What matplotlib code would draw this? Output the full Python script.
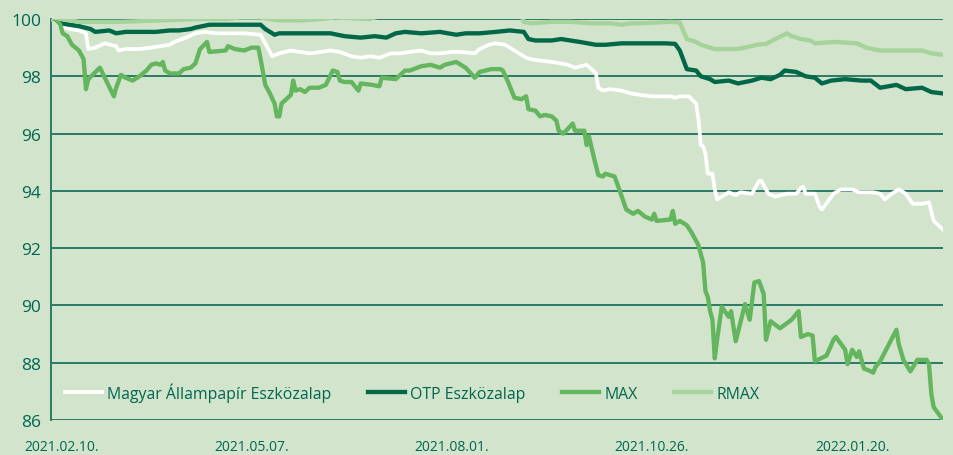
# Eszközalapok árfolyamának alakulása, 2021.02.10. = 100
import numpy as np
import pandas as pd
import matplotlib.pyplot as plt
from matplotlib.transforms import ScaledTranslation

plt.rcParams['font.family'] = ['Open Sans', 'DejaVu Sans']

start = pd.Timestamp('2021-02-10')
tick_labels = ['2021.02.10.', '2021.05.07.', '2021.08.01.', '2021.10.26.', '2022.01.20.']
series_names = ['Magyar Állampapír Eszközalap', 'OTP Eszközalap', 'MAX', 'RMAX']

# napok a kezdőnaptól és az értékek (ábráról leolvasva)
allam_days = [0, 1, 4, 8, 12, 15, 16, 19, 23, 28, 29, 32, 38, 43, 47, 51, 53, 58, 62, 66, 71, 77, 83,
              90, 92, 95, 98, 103, 107, 111, 116, 120, 124, 129, 133, 137, 141, 146, 150, 154, 159,
              163, 167, 172, 176, 182, 184, 188, 191, 195, 197, 199, 202, 204, 206, 210, 215, 219,
              222, 225, 230, 232, 234, 235, 237, 240, 245, 249, 253, 258, 266, 268, 270, 274, 275,
              277, 278, 279, 280, 281, 282, 284, 285, 286, 288, 291, 294, 296, 301, 304, 305, 308,
              311, 316, 320, 322, 323, 324, 328, 330, 331, 336, 339, 344, 347, 350, 353, 356, 358,
              361, 364, 367, 370, 374, 377, 379, 383]
allam_vals = [100.0, 100.1, 99.75, 99.65, 99.6, 99.5, 98.95, 99.0, 99.15, 99.05, 98.9, 98.95, 98.95,
              99.0, 99.05, 99.1, 99.2, 99.35, 99.5, 99.55, 99.5, 99.5, 99.5, 99.45, 99.15, 98.7, 98.8,
              98.9, 98.85, 98.8, 98.85, 98.9, 98.85, 98.7, 98.65, 98.7, 98.65, 98.8, 98.8, 98.85,
              98.9, 98.8, 98.8, 98.85, 98.85, 98.8, 98.95, 99.1, 99.15, 99.1, 99.0, 98.9, 98.75,
              98.65, 98.6, 98.55, 98.5, 98.45, 98.4, 98.3, 98.4, 98.25, 98.1, 97.6, 97.5, 97.55,
              97.5, 97.4, 97.35, 97.3, 97.3, 97.25, 97.3, 97.3, 97.2, 97.05, 96.5, 95.6, 95.55, 95.3,
              94.6, 94.6, 94.05, 93.7, 93.8, 93.95, 93.85, 93.95, 93.9, 94.35, 94.35, 93.9, 93.8,
              93.9, 93.9, 94.1, 94.15, 93.9, 93.9, 93.45, 93.35, 93.9, 94.05, 94.05, 93.95, 93.95,
              93.95, 93.9, 93.7, 93.9, 94.05, 93.9, 93.55, 93.55, 93.6, 92.95, 92.65]

otp_days = [0, 1, 4, 12, 17, 19, 25, 28, 32, 38, 45, 51, 55, 60, 62, 68, 73, 81, 90, 92, 96, 98, 105,
            116, 120, 126, 133, 139, 144, 148, 152, 159, 167, 174, 178, 184, 191, 197, 203, 205, 208,
            215, 219, 223, 227, 234, 238, 245, 253, 260, 264, 268, 270, 273, 277, 279, 283, 285, 291,
            295, 301, 305, 309, 313, 315, 320, 324, 328, 331, 335, 341, 348, 352, 356, 363, 367, 374,
            378, 383]
otp_vals = [100.0, 100.05, 99.85, 99.75, 99.65, 99.55, 99.6, 99.5, 99.55, 99.55, 99.55, 99.6, 99.6,
            99.65, 99.7, 99.8, 99.8, 99.8, 99.8, 99.65, 99.45, 99.5, 99.5, 99.5, 99.5, 99.4, 99.35,
            99.4, 99.35, 99.5, 99.55, 99.5, 99.55, 99.45, 99.5, 99.5, 99.55, 99.6, 99.55, 99.3, 99.25,
            99.25, 99.3, 99.25, 99.2, 99.1, 99.1, 99.15, 99.15, 99.15, 99.15, 99.13, 98.9, 98.25,
            98.2, 98.0, 97.9, 97.8, 97.85, 97.75, 97.85, 97.95, 97.9, 98.05, 98.2, 98.15, 98.0, 97.95,
            97.75, 97.85, 97.9, 97.85, 97.85, 97.6, 97.7, 97.55, 97.6, 97.45, 97.4]

max_days = [0, 1, 4, 5, 7, 9, 12, 14, 15, 16, 21, 27, 28, 30, 32, 35, 38, 41, 43, 45, 47, 48, 49, 51,
            55, 57, 60, 62, 64, 67, 68, 75, 76, 79, 83, 86, 89, 90, 92, 94, 96, 97, 98, 99, 103, 104,
            105, 107, 109, 111, 115, 118, 121, 123, 124, 126, 129, 132, 133, 138, 141, 142, 148, 150,
            152, 154, 159, 163, 167, 169, 174, 178, 182, 184, 189, 193, 194, 196, 199, 202, 204, 205,
            208, 210, 212, 215, 217, 218, 220, 224, 225, 229, 230, 231, 233, 235, 237, 238, 242, 244,
            247, 250, 252, 255, 258, 259, 260, 266, 267, 268, 270, 273, 275, 278, 280, 281, 282, 283,
            284, 285, 286, 288, 291, 292, 294, 298, 300, 302, 304, 306, 307, 309, 313, 318, 321, 322,
            325, 327, 328, 333, 336, 337, 341, 342, 344, 346, 347, 349, 352, 353, 354, 356, 363, 364,
            366, 369, 372, 376, 377, 378, 379, 383]
max_vals = [100.0, 100.1, 99.8, 99.5, 99.4, 99.1, 98.9, 98.6, 97.55, 97.9, 98.3, 97.3, 97.6, 98.05,
            97.95, 97.85, 98.0, 98.2, 98.4, 98.45, 98.4, 98.5, 98.2, 98.1, 98.1, 98.25, 98.3, 98.45,
            98.95, 99.2, 98.85, 98.9, 99.05, 98.95, 98.9, 99.0, 99.0, 98.6, 97.7, 97.4, 97.05, 96.6,
            96.6, 97.05, 97.35, 97.85, 97.5, 97.55, 97.45, 97.6, 97.6, 97.7, 98.2, 98.15, 97.85, 97.8,
            97.8, 97.5, 97.75, 97.7, 97.65, 97.95, 97.9, 98.05, 98.2, 98.2, 98.35, 98.4, 98.3, 98.4,
            98.5, 98.3, 97.95, 98.15, 98.25, 98.25, 98.2, 97.85, 97.25, 97.2, 97.3, 96.85, 96.8, 96.6,
            96.65, 96.6, 96.45, 96.1, 96.0, 96.35, 96.1, 96.1, 95.6, 95.9, 95.2, 94.55, 94.5, 94.6,
            94.5, 94.05, 93.35, 93.2, 93.3, 93.1, 93.0, 93.2, 92.95, 93.0, 93.3, 92.85, 92.95, 92.8,
            92.55, 92.1, 91.5, 90.5, 90.3, 89.8, 89.5, 88.15, 88.8, 89.95, 89.6, 89.8, 88.75, 90.05,
            89.5, 90.8, 90.85, 90.4, 88.8, 89.45, 89.2, 89.5, 89.8, 88.9, 89.0, 88.95, 88.05, 88.25,
            88.8, 88.9, 88.45, 87.95, 88.45, 88.2, 88.4, 87.8, 87.7, 87.65, 87.85, 88.05, 89.15,
            88.65, 88.1, 87.7, 88.1, 88.1, 87.95, 86.9, 86.45, 86.0]

rmax_days = [0, 1, 12, 30, 47, 64, 75, 81, 90, 98, 107, 116, 122, 137, 141, 150, 159, 167, 176, 182,
             193, 202, 203, 206, 215, 223, 227, 232, 240, 245, 249, 253, 266, 270, 273, 277, 279, 285,
             294, 298, 303, 307, 311, 316, 318, 322, 326, 328, 337, 346, 350, 356, 364, 374, 378, 383]
rmax_vals = [100.0, 100.05, 99.9, 99.9, 99.95, 100.0, 100.0, 100.05, 100.05, 99.95, 99.95, 100.0,
             100.05, 100.0, 100.1, 100.15, 100.15, 100.2, 100.25, 100.2, 100.15, 100.15, 99.9, 99.85,
             99.9, 99.9, 99.88, 99.85, 99.85, 99.8, 99.85, 99.85, 99.9, 99.88, 99.3, 99.2, 99.1,
             98.95, 98.95, 99.0, 99.1, 99.13, 99.3, 99.5, 99.4, 99.3, 99.25, 99.15, 99.2, 99.15,
             99.0, 98.9, 98.9, 98.9, 98.8, 98.75]

bg = '#d2e4cc'
teal = '#00664f'
grid_c = '#2b7a66'
colors = ['#ffffff', '#006747', '#63b55e', '#a6d39c']
widths = [2.7, 3.1, 3.1, 3.1]

fig = plt.figure(figsize=(9.54, 4.56), dpi=100, facecolor=bg)
ax = fig.add_axes([51 / 954, 1 - 421 / 456, 892 / 954, 401 / 456])
ax.set_facecolor(bg)

all_days = [allam_days, otp_days, max_days, rmax_days]
all_vals = [allam_vals, otp_vals, max_vals, rmax_vals]
for name, d, v, c, w in zip(series_names, all_days, all_vals, colors, widths):
    dates = start + pd.to_timedelta(np.array(d), unit='D')
    ax.plot(dates, v, color=c, lw=w, label=name, solid_joinstyle='round', zorder=3)

ax.set_ylim(86, 100)
ax.set_yticks(np.arange(86, 101, 2))
ax.set_xlim(start, start + pd.Timedelta(days=383))
ax.set_xticks(pd.to_datetime(tick_labels, format='%Y.%m.%d.'))
ax.set_xticklabels(tick_labels)

ax.grid(axis='y', color=grid_c, lw=1.4)
ax.set_axisbelow(True)
for s in ['top', 'right', 'bottom']:
    ax.spines[s].set_visible(False)
ax.spines['left'].set_color(grid_c)
ax.spines['left'].set_linewidth(1.4)

ax.tick_params(axis='y', length=0, pad=7, labelsize=12.5, labelcolor=teal)
ax.tick_params(axis='x', length=0, pad=13.5, labelsize=10, labelcolor=teal)
# az első dátumfelirat kicsit jobbra tolva
first = ax.get_xticklabels()[0]
first.set_transform(first.get_transform() + ScaledTranslation(11 / 100, 0, fig.dpi_scale_trans))

leg = ax.legend(loc='center left', bbox_to_anchor=(14 / 892, 0.07), ncol=4, frameon=False,
                borderaxespad=0, borderpad=0, handlelength=2.35, handletextpad=0.32,
                columnspacing=2.3, fontsize=11.4)
for t in leg.get_texts():
    t.set_color(teal)

fig.savefig('out.png', dpi=100, facecolor=bg)
